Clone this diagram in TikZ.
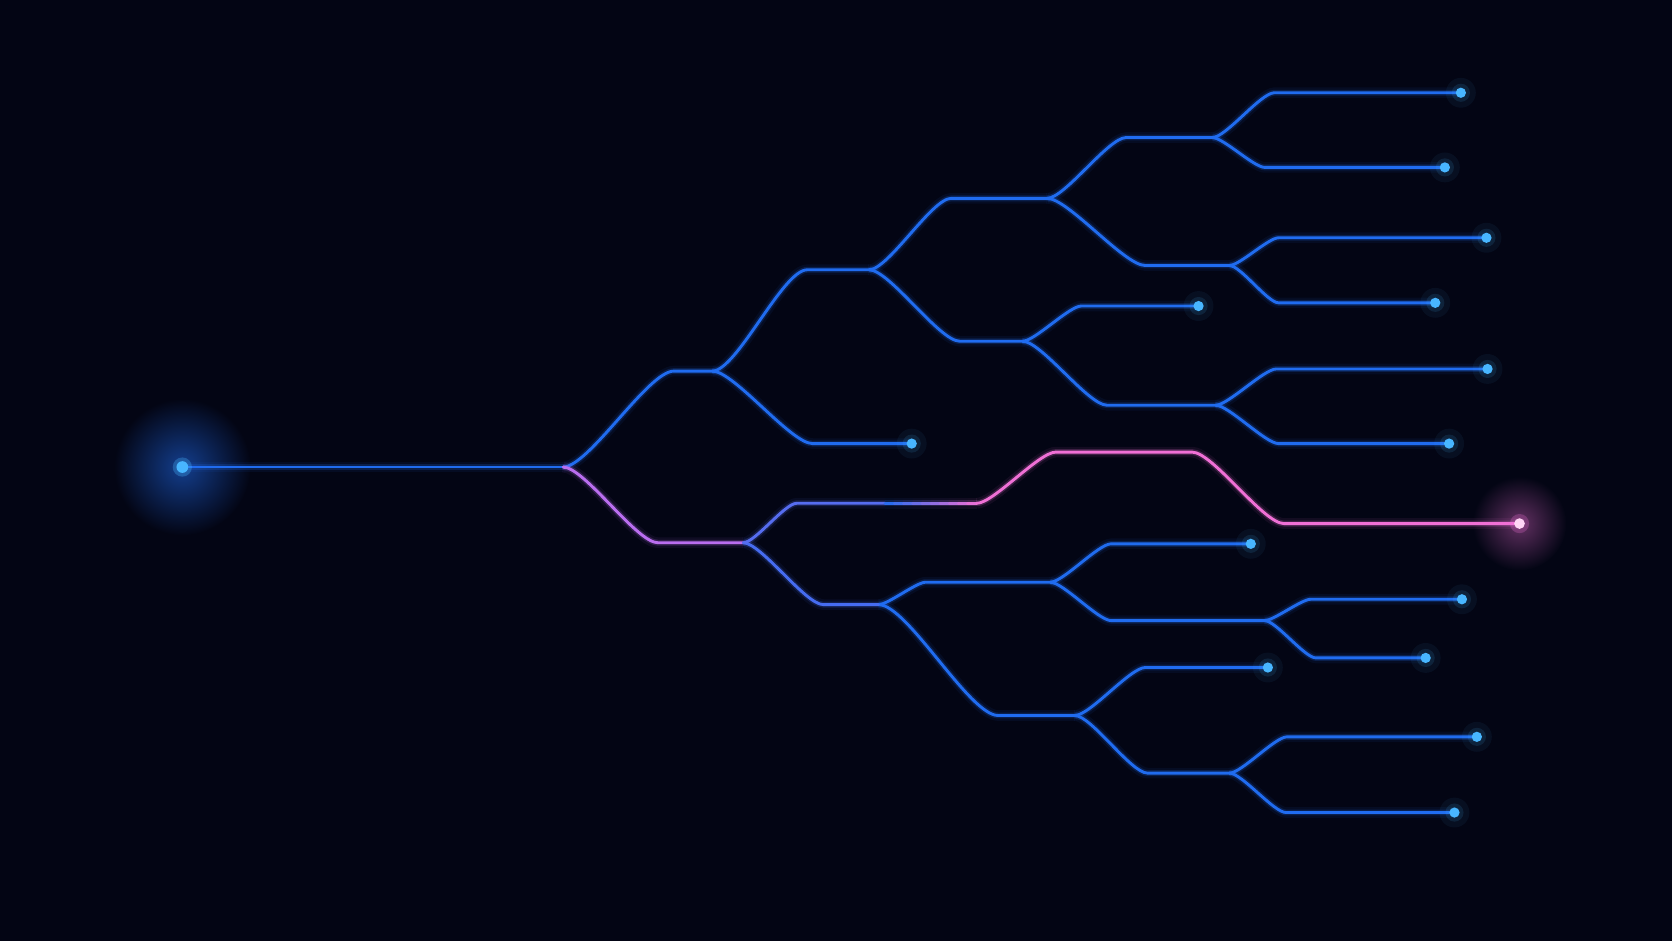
\documentclass[tikz,border=0pt]{standalone}
\usetikzlibrary{calc}
\definecolor{bg}{RGB}{3,5,20}
\definecolor{wireblue}{RGB}{32,108,240}
\definecolor{tipblue}{RGB}{72,182,255}
\definecolor{hotpink}{RGB}{240,112,214}
\definecolor{lilac}{RGB}{186,110,240}
\definecolor{hotcore}{RGB}{255,214,245}

\begin{document}
\begin{tikzpicture}[x=1pt, y=-1pt,
    wire/.style={draw=#1, line width=2.7pt, line cap=round,
      preaction={draw=#1, line width=10pt, draw opacity=.07},
      preaction={draw=#1, line width=5.5pt, draw opacity=.2}},
    wire/.default=wireblue,
    split/.style={out=0, in=180, looseness=.45}]
        \fill[bg] (0,0) rectangle (1568,882);
        \useasboundingbox (0,0) rectangle (1568,882);

        % trunk and split points
        \coordinate (root) at (171,438);
        \coordinate (rb) at (528,438);
        \coordinate (A) at (632,348);  \coordinate (Ab) at (668,348);
        \coordinate (B) at (757,253);  \coordinate (Bb) at (815,253);
        \coordinate (C) at (892,186);  \coordinate (Cb) at (982,186);
        \coordinate (D) at (1056,129); \coordinate (Db) at (1137,129);
        \coordinate (E) at (1074,249); \coordinate (Eb) at (1153,249);
        \coordinate (F) at (900,320);  \coordinate (Fb) at (959,320);
        \coordinate (G) at (1038,380); \coordinate (Gb) at (1140,380);
        \coordinate (P) at (617,509);  \coordinate (Pb) at (697,509);
        \coordinate (Q) at (772,567);  \coordinate (Qb) at (824,567);
        \coordinate (R) at (868,546);  \coordinate (Rb) at (985,546);
        \coordinate (S) at (1042,582); \coordinate (Sb) at (1186,582);
        \coordinate (T) at (936,671);  \coordinate (Tb) at (1008,671);
        \coordinate (U) at (1076,725); \coordinate (Ub) at (1153,725);

        % leaves
        \coordinate (a) at (762,416);   \coordinate (ax) at (855,416);
        \coordinate (du) at (1195,87);  \coordinate (dux) at (1370,87);
        \coordinate (dd) at (1186,157); \coordinate (ddx) at (1355,157);
        \coordinate (eu) at (1199,223); \coordinate (eux) at (1394,223);
        \coordinate (ed) at (1199,284); \coordinate (edx) at (1346,284);
        \coordinate (fu) at (1014,287); \coordinate (fux) at (1124,287);
        \coordinate (gu) at (1197,346); \coordinate (gux) at (1395,346);
        \coordinate (gd) at (1199,416); \coordinate (gdx) at (1359,416);
        \coordinate (ru) at (1042,510); \coordinate (rux) at (1173,510);
        \coordinate (su) at (1229,562); \coordinate (sux) at (1371,562);
        \coordinate (sd) at (1234,617); \coordinate (sdx) at (1337,617);
        \coordinate (tu) at (1074,626); \coordinate (tux) at (1189,626);
        \coordinate (uu) at (1207,691); \coordinate (uux) at (1385,691);
        \coordinate (ud) at (1206,762); \coordinate (udx) at (1364,762);

        % highlighted route
        \coordinate (H1) at (747,472);
        \coordinate (Hm) at (830,472);
        \coordinate (H2) at (916,472);
        \coordinate (H3) at (990,424);
        \coordinate (H4) at (1118,424);
        \coordinate (H5) at (1204,491);
        \coordinate (hx) at (1425,491);

        % soft halos
        \shade[inner color=wireblue!55!bg, outer color=bg] (root) circle (64pt);
        \shade[inner color=hotpink!40!bg, outer color=bg] (hx) circle (44pt);

        \draw[wire] (root) -- (rb);

        \foreach \p/\q/\s in {rb/A/Ab, Ab/B/Bb, Bb/C/Cb, Cb/D/Db, Cb/E/Eb,
                Bb/F/Fb, Fb/G/Gb, Qb/R/Rb, Rb/S/Sb, Qb/T/Tb, Tb/U/Ub}
            \draw[wire] (\p) to[split] (\q) -- (\s);

        \foreach \p/\q/\s in {Ab/a/ax, Db/du/dux, Db/dd/ddx, Eb/eu/eux, Eb/ed/edx,
                Fb/fu/fux, Gb/gu/gux, Gb/gd/gdx, Rb/ru/rux, Sb/su/sux, Sb/sd/sdx,
                Tb/tu/tux, Ub/uu/uux, Ub/ud/udx} {
            \draw[wire] (\p) to[split] (\q) -- (\s);
            \fill[tipblue, opacity=.06] (\s) circle (14pt);
            \fill[tipblue, opacity=.12] (\s) circle (8.5pt);
            \fill[tipblue] (\s) circle (4.8pt);
        }

        % lower half, starting pink
        \draw[wire=lilac] (rb) to[split] (P) -- (Pb);
        \draw[wire=wireblue!75!lilac] (Pb) to[split] (Q) -- (Qb);
        \draw[wire=wireblue!65!lilac] (Pb) to[split] (H1) -- (Hm);
        \foreach \i in {0,...,9} {
            \pgfmathsetmacro{\c}{\i*10+5}
            \draw[wire=hotpink!\c!wireblue] ($(Hm)!\i/10!(H2)$) -- ($(Hm)!\i/10+.1!(H2)$);
        }
        \draw[wire=hotpink] (H2) to[split] (H3) -- (H4) to[split] (H5) -- (hx);

        \fill[hotpink, opacity=.25] (hx) circle (9pt);
        \fill[hotcore] (hx) circle (5pt);

        \fill[tipblue, opacity=.3] (root) circle (9pt);
        \fill[tipblue] (root) circle (5.5pt);
    \end{tikzpicture}
\end{document}
